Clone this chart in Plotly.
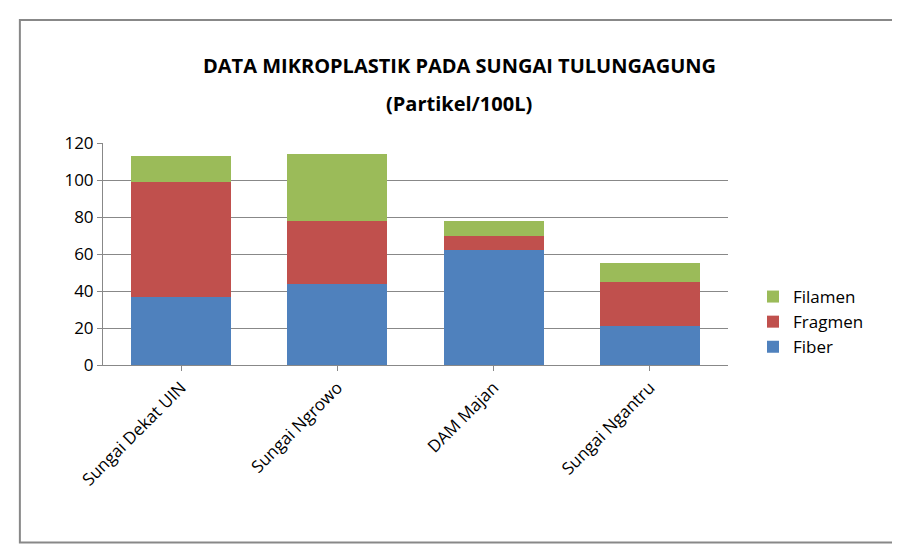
import plotly.graph_objects as go

categories = ["Sungai Dekat UIN", "Sungai Ngrowo", "DAM Majan", "Sungai Ngantru"]
fiber = [37, 44, 62, 21]
fragmen = [62, 34, 8, 24]
filamen = [14, 36, 8, 10]

COLORS = {"Fiber": "#4F81BD", "Fragmen": "#C0504D", "Filamen": "#9BBB59"}

fig = go.Figure()
for name, vals in [("Fiber", fiber), ("Fragmen", fragmen), ("Filamen", filamen)]:
    fig.add_trace(go.Bar(x=categories, y=vals, name=name, marker_color=COLORS[name],
                         marker_line_width=0))

fig.update_layout(
    barmode="stack",
    bargap=0.36,
    width=900, height=547,
    paper_bgcolor="white", plot_bgcolor="white",
    font=dict(family="Open Sans, Liberation Sans, sans-serif", size=16, color="black"),
    margin=dict(l=95, r=180, t=135, b=190, autoexpand=False),
    legend=dict(traceorder="reversed", x=1.04, y=0.0, yanchor="bottom", xanchor="left",
                font=dict(size=17)),
    showlegend=True,
    shapes=[dict(type="rect", xref="paper", yref="paper", x0=-0.133, x1=1.269, y0=-0.80, y1=1.554,
                 line=dict(color="#888888", width=2))],
    annotations=[
        dict(text="<b>DATA MIKROPLASTIK PADA SUNGAI TULUNGAGUNG</b>", xref="paper", yref="paper",
             x=0.57, y=1.42, showarrow=False, font=dict(size=20)),
        dict(text="<b>(Partikel/100L)</b>", xref="paper", yref="paper",
             x=0.57, y=1.25, showarrow=False, font=dict(size=20)),
    ],
)
fig.update_yaxes(range=[0, 120], dtick=20, showgrid=True, gridcolor="#888888", gridwidth=1,
                 showline=True, linecolor="#888888", ticks="outside", ticklen=5,
                 tickcolor="#888888", tickfont=dict(size=17), automargin=False)
fig.update_xaxes(showline=True, linecolor="#888888", tickangle=-45, tickfont=dict(size=17),
                 ticks="outside", tickcolor="#888888", automargin=False)

fig.write_html("out.html")
